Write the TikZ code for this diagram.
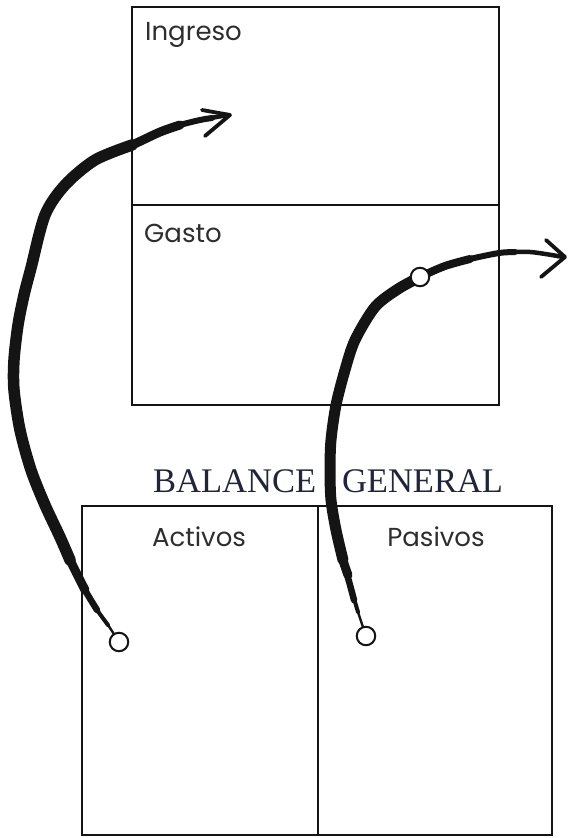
\documentclass[tikz,border=0pt]{standalone}
\usepackage{fontspec}
\newfontfamily\labelfont{Poppins}
\newfontfamily\titlefont{Liberation Serif}
\definecolor{ink}{HTML}{141414}
\definecolor{txt}{HTML}{2E2E2E}
\definecolor{headtxt}{HTML}{22253A}
\begin{document}
\begin{tikzpicture}[x=1pt,y=-1pt,
  box/.style={draw=ink, line width=2.8pt},
  lbl/.style={font=\labelfont\fontsize{26}{30}\selectfont, text=txt, inner sep=0pt},
  heading/.style={font=\titlefont\fontsize{34.5}{38}\selectfont, text=headtxt, inner sep=0pt},
  dot/.style={circle, draw=ink, line width=2pt, fill=white, minimum size=18.5pt, inner sep=0pt},
  brush/.style={draw=ink, line width=#1, line cap=round, line join=round},
]
\useasboundingbox (0,0) rectangle (568,838);
\fill[white] (0,0) rectangle (568,838);

% boxes
\draw[box] (132,7) rectangle (499,205);
\draw[box] (132,205) rectangle (499,405);
\draw[box] (82,506) rectangle (318,835);
\draw[box] (318,506) rectangle (552,835);

% labels
\node[lbl, anchor=base west] (ingreso) at (145,40) {Ingreso};
\node[lbl, anchor=base west] (gasto) at (144,242) {Gasto};
\node[lbl, anchor=base] (activos) at (199,546) {Activos};
\node[lbl, anchor=base] (pasivos) at (436,546) {Pasivos};
\node[heading, anchor=base west] (balance) at (153,492) {BALANCE\hspace{26pt}GENERAL};

% circles and tips
\coordinate (c1) at (119,642);
\coordinate (c2) at (366,636);
\coordinate (c3) at (420,277);
\coordinate (t1) at (230,115);
\coordinate (t2) at (565,257);

% curve 1 (Activos -> Ingreso), tapered brush stroke
\draw[brush=2.4pt] plot[smooth] coordinates {(c1) (108,625) (95,607) (82,585)};
\draw[brush=4pt] plot[smooth] coordinates {(108,625) (95,607) (82,585) (70,560)};
\draw[brush=6.5pt] plot[smooth] coordinates {(97,610) (82,585) (70,560) (60,537)};
\draw[brush=9pt] plot[smooth] coordinates {(85,590) (70,560) (60,537) (45,505) (31,470)};
\draw[brush=11.5pt] plot[smooth] coordinates {(70,560) (60,537) (45,505) (31,470) (20,430) (14,390) (14,360) (18,325) (24,295) (31,268) (45,215) (65,185) (95,160) (132,145)};
\draw[brush=9pt] plot[smooth] coordinates {(65,185) (95,160) (132,145) (160,132) (180,125)};
\draw[brush=6pt] plot[smooth] coordinates {(132,145) (160,132) (180,125) (200,120) (212,118)};
\draw[brush=4.5pt] plot[smooth] coordinates {(180,125) (200,120) (228,115)};
\draw[brush=3.8pt] (t1) -- (202,110);
\draw[brush=3.8pt] (t1) -- (205,136);

% curve 2 (Pasivos -> Gasto -> out), tapered brush stroke
\draw[brush=2.4pt] plot[smooth] coordinates {(c2) (358,612) (350,585)};
\draw[brush=4pt] plot[smooth] coordinates {(358,612) (350,585) (343,560)};
\draw[brush=6.5pt] plot[smooth] coordinates {(354,600) (350,585) (343,560) (336,530)};
\draw[brush=9pt] plot[smooth] coordinates {(348,575) (343,560) (336,530) (331,500)};
\draw[brush=11pt] plot[smooth] coordinates {(343,560) (336,530) (331,500) (330,470) (331,440) (336,405) (345,370) (355,340) (375,307) (398,289) (420,277)};
\draw[brush=8pt] plot[smooth] coordinates {(398,289) (420,277) (445,266) (470,259)};
\draw[brush=6pt] plot[smooth] coordinates {(420,277) (445,266) (470,259) (499,253) (515,252)};
\draw[brush=4.5pt] plot[smooth] coordinates {(470,259) (499,253) (530,252) (563,257)};
\draw[brush=3.8pt] (t2) -- (546,240);
\draw[brush=3.8pt] (t2) -- (541,277);

\node[dot] (d1) at (c1) {};
\node[dot] (d2) at (c2) {};
\node[dot] (d3) at (c3) {};
\end{tikzpicture}
\end{document}
